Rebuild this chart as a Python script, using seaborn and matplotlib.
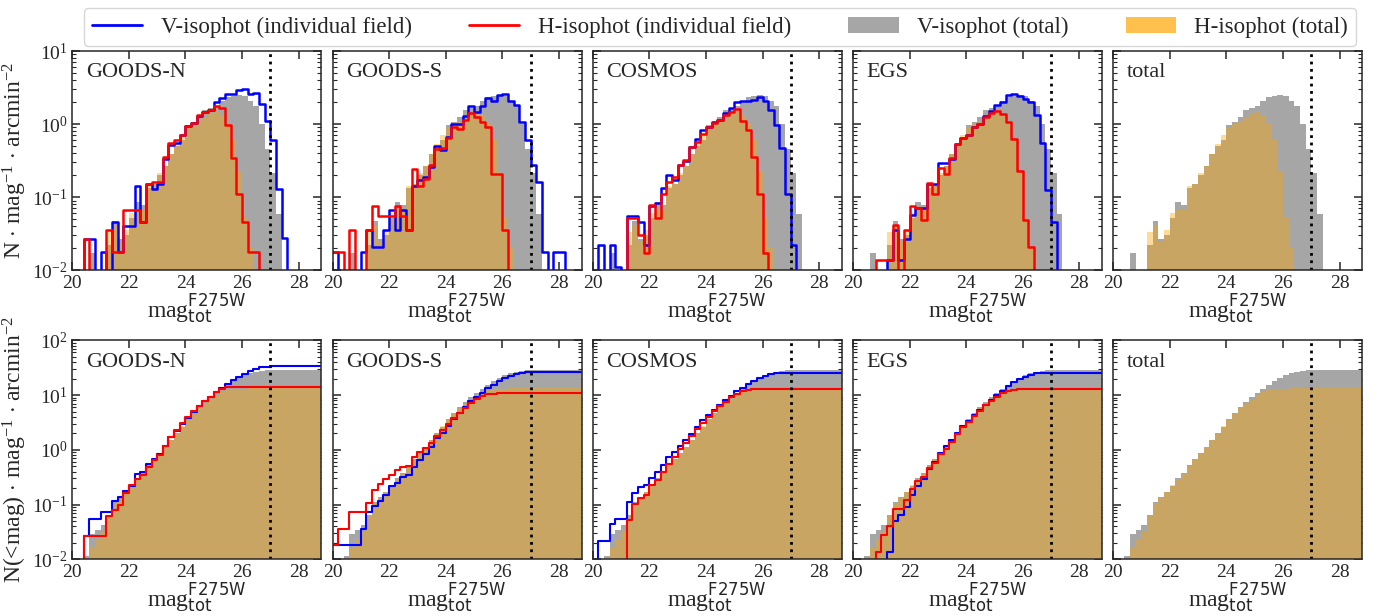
import numpy as np
import pandas as pd
import matplotlib
matplotlib.use("Agg")
import matplotlib.pyplot as plt
import seaborn as sns
from matplotlib.lines import Line2D
from matplotlib.patches import Patch

# magnitude bins, 0.2 mag wide, 20.0 -> 28.8
bin_edges = np.round(np.arange(20.0, 28.81, 0.2), 1)
mag_centers = bin_edges[:-1] + 0.1

fields = ["GOODS-N", "GOODS-S", "COSMOS", "EGS", "total"]

# differential counts, N / mag / arcmin^2, one value per bin
V_total = [0, 0.005, 0.0065, 0.017, 0.006, 0.008, 0.022, 0.047, 0.027, 0.030, 0.052,
           0.085, 0.079, 0.133, 0.15, 0.20, 0.27, 0.39, 0.50, 0.60, 0.96, 1.08,
           1.26, 1.55, 1.64, 1.80, 2.08, 2.36, 2.43, 2.54, 2.45, 2.05, 1.76,
           1.02, 0.456, 0.217, 0.059, 0, 0, 0, 0, 0, 0, 0]
H_total = [0, 0.004, 0.006, 0.006, 0.008, 0.008, 0.033, 0.042, 0.024, 0.036, 0.061,
           0.067, 0.066, 0.14, 0.15, 0.214, 0.27, 0.39, 0.53, 0.70, 0.90, 1.0,
           1.10, 1.23, 1.43, 1.51, 1.33, 1.0, 0.62, 0.22, 0.052, 0.020, 0,
           0, 0, 0, 0, 0, 0, 0, 0, 0, 0, 0]

GN_V = [0, 0, 0.027, 0.027, 0, 0.018, 0, 0.045, 0.018, 0.04, 0.04,
        0.14, 0.045, 0.15, 0.13, 0.15, 0.33, 0.52, 0.55, 0.72, 0.93, 1.05,
        1.30, 1.45, 1.55, 2.0, 2.3, 2.6, 2.6, 2.9, 3.05, 2.6, 2.7,
        1.9, 1.1, 0.6, 0.13, 0.028, 0, 0, 0, 0, 0, 0]
GN_H = [0, 0, 0.027, 0, 0, 0, 0.036, 0.018, 0.018, 0.066, 0.066,
        0.066, 0.045, 0.15, 0.16, 0.16, 0.36, 0.55, 0.60, 0.70, 0.95, 1.05,
        1.35, 1.45, 1.55, 1.78, 1.64, 0.97, 0.34, 0.11, 0.045, 0.018, 0.018,
        0, 0, 0, 0, 0, 0, 0, 0, 0, 0, 0]

GS_V = [0.018, 0, 0, 0, 0, 0.018, 0.036, 0.021, 0.021, 0.036, 0.066,
        0.036, 0.066, 0.036, 0.14, 0.17, 0.19, 0.26, 0.50, 0.44, 0.67, 1.0,
        1.02, 1.28, 1.8, 1.47, 1.78, 2.25, 2.1, 2.5, 2.55, 2.05, 1.83,
        1.07, 0.6, 0.28, 0.16, 0.018, 0, 0.018, 0.018, 0, 0, 0]
GS_H = [0.018, 0.018, 0, 0.036, 0, 0, 0.036, 0.075, 0.055, 0.055, 0.055,
        0.075, 0.055, 0.036, 0.24, 0.14, 0.18, 0.28, 0.45, 0.47, 0.65, 0.90,
        0.85, 1.13, 1.42, 1.24, 1.08, 0.9, 0.21, 0.21, 0.036, 0, 0,
        0, 0, 0, 0, 0, 0, 0, 0, 0, 0, 0]

CO_V = [0, 0.022, 0, 0.022, 0.011, 0, 0.055, 0.055, 0.045, 0.022, 0.076,
        0.083, 0.133, 0.2, 0.17, 0.28, 0.31, 0.49, 0.62, 0.84, 0.9, 1.08,
        1.13, 1.42, 1.66, 2.0, 2.06, 2.1, 2.15, 2.35, 2.06, 1.55, 0.97,
        0.47, 0.11, 0.022, 0, 0, 0, 0, 0, 0, 0, 0]
CO_H = [0, 0, 0, 0, 0, 0, 0.052, 0.052, 0.03, 0.017, 0.079,
        0.052, 0.11, 0.16, 0.19, 0.28, 0.32, 0.48, 0.57, 0.73, 0.92, 1.04,
        1.13, 1.33, 1.48, 1.59, 1.1, 0.83, 0.36, 0.11, 0.017, 0, 0,
        0, 0, 0, 0, 0, 0, 0, 0, 0, 0, 0]

EGS_V = [0, 0, 0, 0, 0, 0, 0.0137, 0.036, 0.0137, 0.027, 0.057,
         0.07, 0.07, 0.15, 0.15, 0.29, 0.29, 0.33, 0.54, 0.64, 0.71, 0.9,
         1.02, 1.28, 1.5, 1.83, 2.0, 2.5, 2.55, 2.4, 2.2, 2.0, 1.33,
         0.55, 0.125, 0.045, 0, 0, 0, 0, 0, 0, 0, 0]
EGS_H = [0, 0, 0, 0, 0.0137, 0.0137, 0.0137, 0.042, 0, 0.036, 0.076,
         0.07, 0.049, 0.155, 0.11, 0.25, 0.21, 0.34, 0.54, 0.64, 0.71, 0.9,
         1.02, 1.26, 1.42, 1.5, 1.36, 1.08, 0.62, 0.23, 0.049, 0.021, 0,
         0, 0, 0, 0, 0, 0, 0, 0, 0, 0, 0]

field_V = [GN_V, GS_V, CO_V, EGS_V, None]
field_H = [GN_H, GS_H, CO_H, EGS_H, None]

mag_limit = 27.0

sns.set_style("ticks")
plt.rcParams["font.family"] = ["Liberation Serif", "DejaVu Serif"]
plt.rcParams["mathtext.fontset"] = "custom"
plt.rcParams["mathtext.rm"] = "Liberation Serif"
plt.rcParams["mathtext.it"] = "Liberation Serif:italic"
plt.rcParams["mathtext.sf"] = "DejaVu Sans"

GRAY = "#a6a6a6"
ORANGE = "orange"

fig, axes = plt.subplots(2, 5, figsize=(13.9, 6.16), dpi=100)
fig.subplots_adjust(left=0.052, right=0.98, top=0.917, bottom=0.092,
                    wspace=0.045, hspace=0.32)


def hist(ax, w, cumul, **kw):
    df = pd.DataFrame({"mag": mag_centers, "w": np.asarray(w, dtype=float)})
    sns.histplot(data=df, x="mag", weights="w",
                 bins=[float(b) for b in bin_edges],
                 cumulative=cumul, element="step", ax=ax, **kw)


for col, name in enumerate(fields):
    for row, cumul in enumerate([False, True]):
        ax = axes[row, col]
        lw = 1.5 if cumul else 1.8
        hist(ax, V_total, cumul, fill=True, color=GRAY, alpha=1.0,
             linewidth=0, edgecolor="none")
        hist(ax, H_total, cumul, fill=True, color=ORANGE, alpha=0.4,
             linewidth=0, edgecolor="none")
        if field_V[col] is not None:
            hist(ax, field_V[col], cumul, fill=False, color="blue", linewidth=lw)
            hist(ax, field_H[col], cumul, fill=False, color="red", linewidth=lw)
        ax.axvline(mag_limit, color="black", linestyle=":", linewidth=2)

        ax.set_yscale("log")
        ax.set_xlim(20, 28.8)
        ax.set_ylim(1e-2, 1e2 if cumul else 1e1)
        ax.set_xticks([20, 22, 24, 26, 28])
        ax.tick_params(which="both", direction="in", top=True, right=True,
                       labelsize=14)
        ax.tick_params(which="major", length=6, width=1.1)
        ax.tick_params(which="minor", length=3, width=0.8)
        for sp in ax.spines.values():
            sp.set_linewidth(1.1)
        ax.set_xlabel(r"mag$^{\mathsf{F275W}}_{\mathsf{tot}}$", fontsize=17,
                      labelpad=0)
        if col == 0:
            if cumul:
                ax.set_ylabel(r"N(<mag) $\cdot$ mag$^{-1}$ $\cdot$ arcmin$^{-2}$",
                              fontsize=17, labelpad=2)
            else:
                ax.set_ylabel(r"N $\cdot$ mag$^{-1}$ $\cdot$ arcmin$^{-2}$",
                              fontsize=17, labelpad=2)
        else:
            ax.set_ylabel("")
            ax.tick_params(axis="y", which="both", labelleft=False)
        ax.text(0.055, 0.88, name, transform=ax.transAxes, fontsize=16)

handles = [Line2D([], [], color="blue", linewidth=2),
           Line2D([], [], color="red", linewidth=2),
           Patch(facecolor=GRAY, edgecolor="none"),
           Patch(facecolor="#ffc04d", edgecolor="none")]
labels = ["V-isophot (individual field)", "H-isophot (individual field)",
          "V-isophot (total)", "H-isophot (total)"]
fig.legend(handles, labels, loc="upper center", bbox_to_anchor=(0.518, 1.005),
           ncol=4, fontsize=16.5, frameon=True, columnspacing=2.5,
           handlelength=2.2, borderpad=0.35)

fig.savefig("out.png", dpi=100)
